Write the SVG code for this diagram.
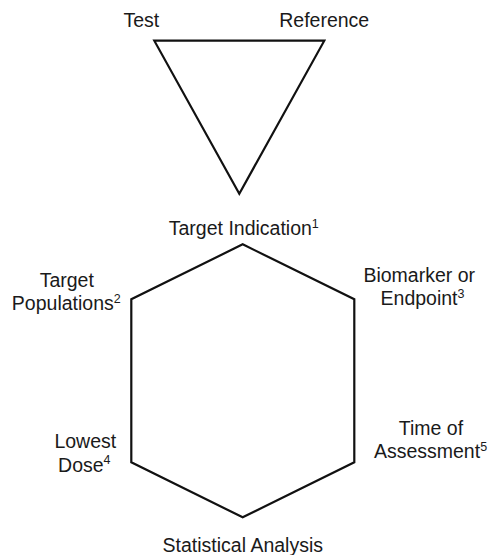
<svg xmlns="http://www.w3.org/2000/svg" width="489" height="555" viewBox="0 0 489 555">
<style>
.shape{fill:none;stroke:#111;stroke-width:2.2;stroke-linejoin:miter}
.lbl{font-family:"Liberation Sans",Arial,sans-serif;font-size:19.5px;fill:#1a1a1a;text-anchor:middle}
.sup{font-size:12.5px}
</style>
<rect width="489" height="555" fill="#fff"/>
<g id="triangle">
<polygon class="shape" points="154.3,40.7 324.3,40.7 239.3,193.7"/>
<text class="lbl" x="141.3" y="26.7">Test</text>
<text class="lbl" x="324.2" y="26.7">Reference</text>
</g>
<g id="hexagon">
<polygon class="shape" points="242.7,244.3 354.3,299.3 354.3,462.3 242.7,517.3 131.3,462.3 131.3,299.3"/>
</g>
<g id="target-indication"><text class="lbl" x="243.8" y="235">Target Indication<tspan class="sup" dy="-7.5">1</tspan></text></g>
<g id="target-populations">
<text class="lbl" x="66.8" y="287.3">Target</text>
<text class="lbl" x="66.3" y="310">Populations<tspan class="sup" dy="-7.5">2</tspan></text>
</g>
<g id="biomarker">
<text class="lbl" x="419.2" y="282.3">Biomarker or</text>
<text class="lbl" x="422.5" y="305">Endpoint<tspan class="sup" dy="-7.5">3</tspan></text>
</g>
<g id="lowest-dose">
<text class="lbl" x="85.3" y="448.3">Lowest</text>
<text class="lbl" x="84.3" y="471.7">Dose<tspan class="sup" dy="-7.5">4</tspan></text>
</g>
<g id="time-of-assessment">
<text class="lbl" x="431" y="435">Time of</text>
<text class="lbl" x="430.5" y="458.3">Assessment<tspan class="sup" dy="-7.5">5</tspan></text>
</g>
<g id="statistical-analysis"><text class="lbl" x="242.8" y="551.7">Statistical Analysis</text></g>
</svg>
